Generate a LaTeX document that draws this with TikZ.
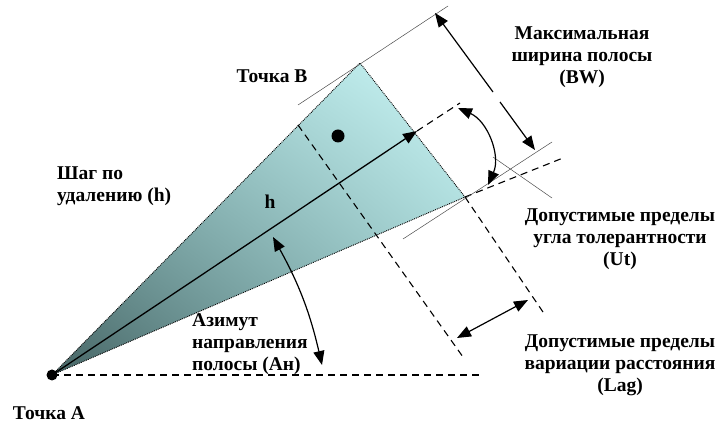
\documentclass[tikz,border=0pt]{standalone}
\usepackage{fontspec}
\setmainfont{Liberation Serif}[BoldFont={Liberation Serif Bold}]
\usetikzlibrary{arrows.meta,shadings}
\definecolor{conedark}{RGB}{70,100,100}
\definecolor{conemid}{RGB}{145,195,195}
\definecolor{conelight}{RGB}{205,248,248}
\begin{document}
\begin{tikzpicture}[x=1pt,y=1pt,
  lbl/.style={font=\bfseries\fontsize{19.5}{22}\selectfont, align=center, inner sep=0pt},
  lbll/.style={font=\bfseries\fontsize{19.5}{22}\selectfont, align=left, inner sep=0pt},
  tip/.style={-{Triangle[length=14pt,width=11pt]}},
  dtip/.style={{Triangle[length=14pt,width=11pt]}-{Triangle[length=14pt,width=11pt]}},
  dsh/.style={dash pattern=on 7pt off 5pt, line width=1.1pt},
  thinln/.style={line width=0.5pt, black!70},
  dot/.style={circle, fill=black, inner sep=0pt}
]
\useasboundingbox (0,0) rectangle (719,425);
\coordinate (A) at (52,50);
\coordinate (U) at (360,362);
\coordinate (L) at (465,228);
\coordinate (T) at (417,294);
\coordinate (Te) at (460,322);
\coordinate (Le) at (563,267);
\coordinate (P1) at (298,300);
\coordinate (P1e) at (463,68);
\coordinate (L2e) at (545,110);
\coordinate (He) at (483,50);
% cone
\shade[lower left=conedark, upper right=conelight, upper left=conemid, lower right=conemid]
  (A) -- (U) -- (L) -- cycle;
\draw[densely dotted, line width=0.9pt] (A) -- (U) -- (L) -- cycle;
% dashed lines
\draw[dsh] (A) -- (He);
\draw[dsh] (P1) -- (P1e);
\draw[dsh] (L) -- (L2e);
\draw[dsh] (T) -- (Te);
\draw[dsh] (L) -- (Le);
% thin lines
\coordinate (t1a) at (298,320); \coordinate (t1b) at (448,419);
\coordinate (t2a) at (403,186); \coordinate (t2b) at (552,283);
\coordinate (t3a) at (493,268); \coordinate (t3b) at (552,227);
\draw[thinln] (t1a) -- (t1b);
\draw[thinln] (t2a) -- (t2b);
\draw[thinln] (t3a) -- (t3b);
% BW arrow
\coordinate (bw1) at (435,412); \coordinate (bw2) at (493,333);
\coordinate (bw3) at (500,323); \coordinate (bw4) at (535,275);
\draw[line width=1.2pt, {Triangle[length=14pt,width=11pt]}-] (bw1) -- (bw2);
\draw[line width=1.2pt, tip] (bw3) -- (bw4);
% Lag arrow
\coordinate (lag1) at (457,87); \coordinate (lag2) at (528,125);
\draw[line width=1.2pt, dtip] (lag1) -- (lag2);
% Ut arc
\coordinate (ut1) at (458,317); \coordinate (ut2) at (488,240);
\draw[line width=1.2pt, dtip] (ut1) to[bend left=45] (ut2);
% Ah arc
\coordinate (ah1) at (273,188); \coordinate (ah2) at (322,60);
\draw[line width=1.2pt, dtip] (ah1) to[bend left=8] (ah2);
% axis
\draw[line width=1.3pt, tip] (A) -- (T);
% dots
\node[dot, minimum size=11pt] (Adot) at (A) {};
\node[dot, minimum size=13pt] (Bdot) at (338,289) {};
% labels
\node[lbl] (hl) at (270,223) {h};
\node[lbl] (pB) at (272,349) {Точка B};
\node[lbl] (pA) at (49,12) {Точка A};
\node[lbll, anchor=west] (step) at (57,239) {Шаг по\\удалению (h)};
\node[lbll, anchor=west] (az) at (192,81) {Азимут\\направления\\полосы (Ан)};
\node[lbl] (bw) at (582,368) {Максимальная\\ширина полосы\\(BW)};
\node[lbl] (ut) at (620,186) {Допустимые пределы\\угла толерантности\\(Ut)};
\node[lbl] (lag) at (620,60) {Допустимые пределы\\вариации расстояния\\(Lag)};
\end{tikzpicture}
\end{document}
